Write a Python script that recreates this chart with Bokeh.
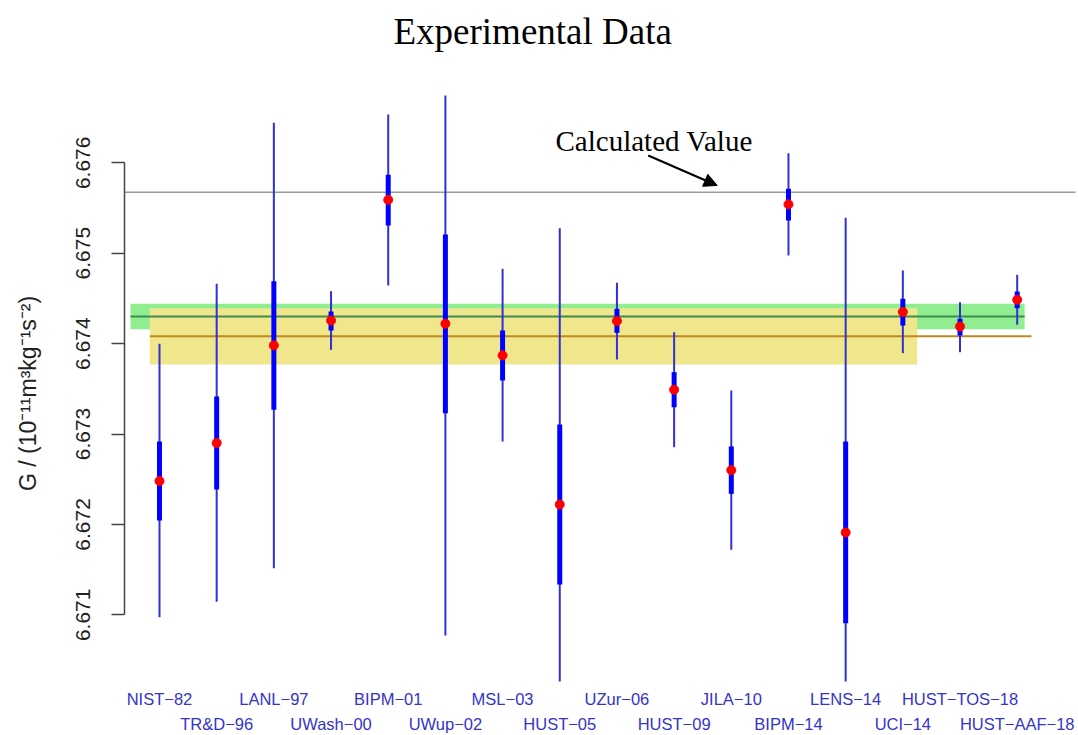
from bokeh.plotting import figure
from bokeh.models import Range1d, FixedTicker, ColumnDataSource, Arrow, NormalHead
from bokeh.core.properties import value
from bokeh.embed import file_html
from bokeh.resources import INLINE

# ---------------- data ----------------
experiments = ["NIST\u221282", "TR&D\u221296", "LANL\u221297", "UWash\u221200", "BIPM\u221201",
               "UWup\u221202", "MSL\u221203", "HUST\u221205", "UZur\u221206", "HUST\u221209",
               "JILA\u221210", "BIPM\u221214", "LENS\u221214", "UCI\u221214", "HUST\u2212TOS\u221218",
               "HUST\u2212AAF\u221218"]
g_value = [6.67248, 6.67290, 6.67398, 6.674256, 6.67559, 6.67422, 6.67387, 6.67222,
           6.67425, 6.67349, 6.67260, 6.67554, 6.67191, 6.67435, 6.674189, 6.674485]
thick_low = [6.672043, 6.672386, 6.673268, 6.674145, 6.675306, 6.673230, 6.673592, 6.671335,
             6.674119, 6.673296, 6.672338, 6.675362, 6.670907, 6.674200, 6.674090, 6.674392]
thick_high = [6.672917, 6.673415, 6.674690, 6.674355, 6.675867, 6.675207, 6.674145, 6.673105,
              6.674385, 6.673684, 6.672862, 6.675712, 6.672917, 6.674496, 6.674274, 6.674576]
thin_low = [6.670973, 6.671144, 6.671515, 6.673931, 6.674643, 6.670771, 6.672917, 6.670262,
            6.673824, 6.672854, 6.671719, 6.674975, 6.670262, 6.673894, 6.673905, 6.674208]
thin_high = [6.673998, 6.674662, 6.676442, 6.674580, 6.676534, 6.676744, 6.674827, 6.675277,
             6.674673, 6.674126, 6.673481, 6.676106, 6.675392, 6.674809, 6.674458, 6.674761]

calculated_value = 6.675675
codata2018 = 6.67430
codata2018_unc = 0.00014
codata2014 = 6.67408
codata2014_unc = 0.00031

y_ticks = [6.671, 6.672, 6.673, 6.674, 6.675, 6.676]

# ---------------- layout helpers ----------------
idx = list(range(1, len(experiments) + 1))
row_level = [6.670074 if i % 2 == 1 else 6.669787 for i in idx]

x_lo, x_hi = 0.388, 17.072
y_lo, y_hi = 6.669665, 6.677231

p = figure(width=1078, height=735, output_backend="svg", toolbar_location=None,
           x_range=Range1d(x_lo, x_hi), y_range=Range1d(y_lo, y_hi),
           x_axis_location=None, min_border_left=124, min_border_right=0,
           min_border_top=51, min_border_bottom=0, title="Experimental Data")
p.grid.visible = False
p.outline_line_color = None
p.background_fill_color = "white"

# title
p.title.text_font = "Liberation Serif"
p.title.text_font_size = "37px"
p.title.text_font_style = "normal"
p.title.text_color = "black"
p.title.align = "left"
p.title.offset = 269
p.title.standoff = 0

# y axis
ax = p.yaxis[0]
ax.ticker = FixedTicker(ticks=y_ticks)
ax.bounds = (y_ticks[0], y_ticks[-1])
ax.major_label_orientation = "vertical"
ax.major_label_text_font = "Liberation Sans"
ax.major_label_text_font_size = "21px"
ax.major_label_text_color = "#222222"
ax.major_label_standoff = 21
ax.major_tick_out = 13
ax.major_tick_in = 0
ax.minor_tick_line_color = None
ax.axis_line_color = "#444444"
ax.axis_line_width = 1.5
ax.major_tick_line_color = "#444444"
ax.major_tick_line_width = 1.5
ax.axis_label = "G / (10\u207b\u00b9\u00b9m\u00b3kg\u207b\u00b9s\u207b\u00b2)"
ax.axis_label_text_font = "Liberation Sans"
ax.axis_label_text_font_size = "23px"
ax.axis_label_text_font_style = "normal"
ax.axis_label_text_color = "#222222"
ax.axis_label_standoff = 33

# calculated value line
p.segment(x0=[0.038], x1=[17.02], y0=[calculated_value], y1=[calculated_value],
          line_color="#9a9a9a", line_width=1.5)

# CODATA bands
p.quad(left=[0.493], right=[16.13], bottom=[codata2018 - codata2018_unc],
       top=[codata2018 + codata2018_unc], fill_color="#90EE90", line_color=None)
p.quad(left=[0.83], right=[14.25], bottom=[codata2014 - codata2014_unc],
       top=[codata2014 + codata2014_unc], fill_color="#F0E68C", line_color=None)
p.segment(x0=[0.493], x1=[16.13], y0=[codata2018], y1=[codata2018],
          line_color="#3f8a4f", line_width=2)
p.segment(x0=[0.83], x1=[16.25], y0=[codata2014], y1=[codata2014],
          line_color="#bf8a1c", line_width=2)

src = ColumnDataSource(dict(x=idx, g=g_value, tl=thick_low, th=thick_high,
                            nl=thin_low, nh=thin_high, name=experiments, ly=row_level))

p.segment(x0="x", x1="x", y0="nl", y1="nh", source=src, line_color="#3030d4",
          line_width=2)
p.segment(x0="x", x1="x", y0="tl", y1="th", source=src, line_color="#0000ff",
          line_width=5, line_cap="butt")
p.scatter(x="x", y="g", source=src, size=9, fill_color="#ff0000", line_color="#ff0000",
          marker="circle")

# experiment labels
p.text(x="x", y="ly", text="name", source=src, text_align="center",
       text_baseline="alphabetic", text_font=value("Liberation Sans"),
       text_font_size="16.5px", text_color="#3434c8")

# annotation
p.text(x=[7.926], y=[6.676236], text=["Calculated Value"], text_align="left",
       text_baseline="alphabetic", text_font=value("Liberation Serif"),
       text_font_size="29px", text_color="black")
p.add_layout(Arrow(end=NormalHead(size=13, fill_color="black", line_color="black"),
                   x_start=9.547, y_start=6.676081, x_end=10.753, y_end=6.675749,
                   line_color="black", line_width=2))

open("out.html", "w").write(file_html(p, INLINE))
